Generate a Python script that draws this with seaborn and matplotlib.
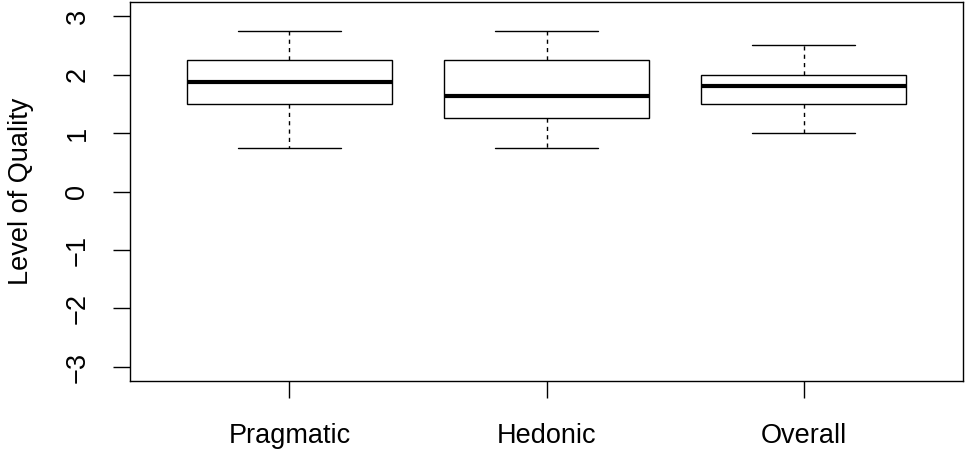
import matplotlib
matplotlib.use("Agg")
import matplotlib.pyplot as plt
import seaborn as sns
import pandas as pd

# Data (five-number summaries, as minimal samples)
categories = ["Pragmatic", "Hedonic", "Overall"]
pragmatic = [0.75, 1.5, 1.875, 2.25, 2.75]
hedonic = [0.75, 1.25, 1.625, 2.25, 2.75]
overall = [1.0, 1.5, 1.8, 2.0, 2.5]
y_ticks = [-3, -2, -1, 0, 1, 2, 3]
y_label = "Level of Quality"

df = pd.DataFrame({
    "dim": [categories[0]] * len(pragmatic) + [categories[1]] * len(hedonic) + [categories[2]] * len(overall),
    "val": pragmatic + hedonic + overall,
})

sns.set_style("white")
plt.rcParams["font.family"] = ["Liberation Sans", "DejaVu Sans"]
plt.rcParams["text.color"] = "black"
plt.rcParams["axes.labelcolor"] = "black"
plt.rcParams["xtick.color"] = "black"
plt.rcParams["ytick.color"] = "black"

fig = plt.figure(figsize=(9.65, 4.49), dpi=100)
ax = fig.add_axes([130 / 965, 1 - 381 / 449, 833 / 965, 379 / 449])

sns.boxplot(
    data=df, x="dim", y="val", order=categories, ax=ax,
    color="white", linecolor="black", linewidth=1.0, width=0.8, whis=1.5,
    medianprops={"linewidth": 3.0, "color": "black"},
    whiskerprops={"linestyle": (0, (3, 3)), "color": "black"},
    capprops={"color": "black"},
    boxprops={"edgecolor": "black", "facecolor": "white"},
)

ax.set_xlim(0.38 - 1, 3.62 - 1)
ax.set_ylim(-3.24, 3.24)
ax.set_yticks(y_ticks)
ax.set_yticklabels(["\u22123", "\u22122", "\u22121", "0", "1", "2", "3"], rotation=90, va="center")
ax.set_xlabel("")
ax.set_ylabel(y_label, fontsize=19.5, labelpad=22, color="black")
ax.tick_params(axis="both", direction="out", length=12.5, width=1.0, colors="black",
               labelsize=19.5, left=True, bottom=True)
ax.tick_params(axis="y", pad=16)
ax.tick_params(axis="x", pad=18)
for s in ax.spines.values():
    s.set_visible(True)
    s.set_color("black")
    s.set_linewidth(1.0)

fig.savefig("out.png", dpi=100, facecolor="white")
